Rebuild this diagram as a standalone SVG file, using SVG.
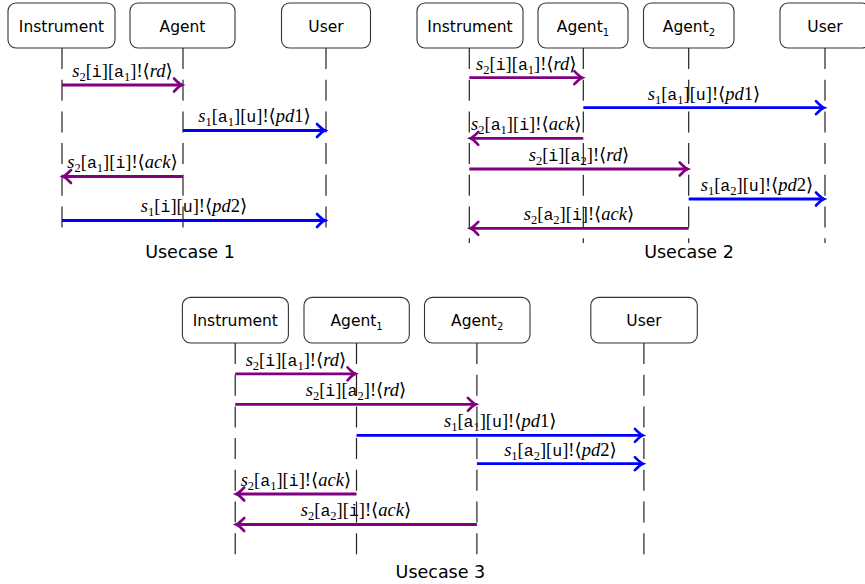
<svg xmlns="http://www.w3.org/2000/svg" width="865" height="584" viewBox="0 0 865 584">
<style>
.box{fill:#fff;stroke:#333;stroke-width:1.1}
.bt{font-family:"DejaVu Sans","Liberation Sans",sans-serif;font-size:15.5px;fill:#000;text-anchor:middle}
.bs{font-size:10px}
.life{stroke:#222;stroke-width:1.2;stroke-dasharray:21 10.7;fill:none}
.lbl{font-family:"Liberation Serif","DejaVu Serif",serif;font-size:18.5px;fill:#000;text-anchor:middle}
.it{font-style:italic}
.tt{font-family:"Liberation Mono","DejaVu Sans Mono",monospace;font-size:16.5px}
.sb{font-size:12.5px}
.cap{font-family:"DejaVu Sans","Liberation Sans",sans-serif;font-size:17.5px;fill:#000;text-anchor:middle}
.p{stroke:#800080;stroke-width:2.8;fill:none}
.b{stroke:#0000ff;stroke-width:2.8;fill:none}
</style>
<defs>
<marker id="hp" markerUnits="userSpaceOnUse" markerWidth="20" markerHeight="20" refX="0" refY="0" viewBox="-10 -10 20 20" orient="auto" overflow="visible">
<path d="M-8,-6.5 Q-3,-1.2 0,0 Q-3,1.2 -8,6.5" stroke="#800080" stroke-width="2.6" fill="none" stroke-linecap="round"/>
</marker>
<marker id="hb" markerUnits="userSpaceOnUse" markerWidth="20" markerHeight="20" refX="0" refY="0" viewBox="-10 -10 20 20" orient="auto" overflow="visible">
<path d="M-8,-6.5 Q-3,-1.2 0,0 Q-3,1.2 -8,6.5" stroke="#0000ff" stroke-width="2.6" fill="none" stroke-linecap="round"/>
</marker>
</defs>

<!-- Usecase 1 -->
<g id="uc1">
<g id="uc1-instrument"><rect class="box" x="8" y="3" width="107" height="45" rx="8"/><text class="bt" x="61.5" y="31.5">Instrument</text></g>
<g id="uc1-agent"><rect class="box" x="130" y="3" width="105" height="45" rx="8"/><text class="bt" x="182.5" y="31.5">Agent</text></g>
<g id="uc1-user"><rect class="box" x="281.5" y="3" width="89" height="45" rx="8"/><text class="bt" x="326" y="31.5">User</text></g>
<g id="uc1-labels">
<text class="lbl" x="122.5" y="77"><tspan class="it">s</tspan><tspan class="sb" dy="4">2</tspan><tspan dy="-4">[</tspan><tspan class="tt">i</tspan>][<tspan class="tt">a</tspan><tspan class="sb" dy="4">1</tspan><tspan dy="-4">]!⟨</tspan><tspan class="it">rd</tspan>⟩</text>
<text class="lbl" x="254.5" y="122"><tspan class="it">s</tspan><tspan class="sb" dy="4">1</tspan><tspan dy="-4">[</tspan><tspan class="tt">a</tspan><tspan class="sb" dy="4">1</tspan><tspan dy="-4">][</tspan><tspan class="tt">u</tspan>]!⟨<tspan class="it">pd</tspan>1⟩</text>
<text class="lbl" x="122.5" y="168"><tspan class="it">s</tspan><tspan class="sb" dy="4">2</tspan><tspan dy="-4">[</tspan><tspan class="tt">a</tspan><tspan class="sb" dy="4">1</tspan><tspan dy="-4">][</tspan><tspan class="tt">i</tspan>]!⟨<tspan class="it">ack</tspan>⟩</text>
<text class="lbl" x="194" y="212"><tspan class="it">s</tspan><tspan class="sb" dy="4">1</tspan><tspan dy="-4">[</tspan><tspan class="tt">i</tspan>][<tspan class="tt">u</tspan>]!⟨<tspan class="it">pd</tspan>2⟩</text>
</g>
<g id="uc1-lifelines">
<line class="life" x1="62" y1="48" x2="62" y2="229"/>
<line class="life" x1="183" y1="48" x2="183" y2="229"/>
<line class="life" x1="326" y1="48" x2="326" y2="229"/>
</g>
<g id="uc1-connectors">
<line class="p" x1="62" y1="85" x2="182" y2="85" marker-end="url(#hp)"/>
<line class="b" x1="183" y1="130.5" x2="325" y2="130.5" marker-end="url(#hb)"/>
<line class="p" x1="183" y1="176.5" x2="63" y2="176.5" marker-end="url(#hp)"/>
<line class="b" x1="62" y1="220.5" x2="325" y2="220.5" marker-end="url(#hb)"/>
</g>
<text class="cap" x="190" y="258">Usecase 1</text>
</g>

<!-- Usecase 2 -->
<g id="uc2">
<g id="uc2-instrument"><rect class="box" x="417" y="3" width="106" height="45" rx="8"/><text class="bt" x="470" y="31.5">Instrument</text></g>
<g id="uc2-agent1"><rect class="box" x="538" y="3" width="90" height="45" rx="8"/><text class="bt" x="583" y="31.5">Agent<tspan class="bs" dy="4">1</tspan></text></g>
<g id="uc2-agent2"><rect class="box" x="643.5" y="3" width="90.5" height="45" rx="8"/><text class="bt" x="689" y="31.5">Agent<tspan class="bs" dy="4">2</tspan></text></g>
<g id="uc2-user"><rect class="box" x="780" y="3" width="90" height="45" rx="8"/><text class="bt" x="825" y="31.5">User</text></g>
<g id="uc2-labels">
<text class="lbl" x="526.3" y="69.5"><tspan class="it">s</tspan><tspan class="sb" dy="4">2</tspan><tspan dy="-4">[</tspan><tspan class="tt">i</tspan>][<tspan class="tt">a</tspan><tspan class="sb" dy="4">1</tspan><tspan dy="-4">]!⟨</tspan><tspan class="it">rd</tspan>⟩</text>
<text class="lbl" x="704" y="99.5"><tspan class="it">s</tspan><tspan class="sb" dy="4">1</tspan><tspan dy="-4">[</tspan><tspan class="tt">a</tspan><tspan class="sb" dy="4">1</tspan><tspan dy="-4">][</tspan><tspan class="tt">u</tspan>]!⟨<tspan class="it">pd</tspan>1⟩</text>
<text class="lbl" x="526.3" y="130"><tspan class="it">s</tspan><tspan class="sb" dy="4">2</tspan><tspan dy="-4">[</tspan><tspan class="tt">a</tspan><tspan class="sb" dy="4">1</tspan><tspan dy="-4">][</tspan><tspan class="tt">i</tspan>]!⟨<tspan class="it">ack</tspan>⟩</text>
<text class="lbl" x="579" y="160.5"><tspan class="it">s</tspan><tspan class="sb" dy="4">2</tspan><tspan dy="-4">[</tspan><tspan class="tt">i</tspan>][<tspan class="tt">a</tspan><tspan class="sb" dy="4">2</tspan><tspan dy="-4">]!⟨</tspan><tspan class="it">rd</tspan>⟩</text>
<text class="lbl" x="757" y="190.5"><tspan class="it">s</tspan><tspan class="sb" dy="4">1</tspan><tspan dy="-4">[</tspan><tspan class="tt">a</tspan><tspan class="sb" dy="4">2</tspan><tspan dy="-4">][</tspan><tspan class="tt">u</tspan>]!⟨<tspan class="it">pd</tspan>2⟩</text>
<text class="lbl" x="579" y="220"><tspan class="it">s</tspan><tspan class="sb" dy="4">2</tspan><tspan dy="-4">[</tspan><tspan class="tt">a</tspan><tspan class="sb" dy="4">2</tspan><tspan dy="-4">][</tspan><tspan class="tt">i</tspan>]!⟨<tspan class="it">ack</tspan>⟩</text>
</g>
<g id="uc2-lifelines">
<line class="life" x1="469.3" y1="48" x2="469.3" y2="243"/>
<line class="life" x1="583.3" y1="48" x2="583.3" y2="243"/>
<line class="life" x1="688.7" y1="48" x2="688.7" y2="243"/>
<line class="life" x1="825" y1="48" x2="825" y2="243"/>
</g>
<g id="uc2-connectors">
<line class="p" x1="469.3" y1="77.7" x2="582.3" y2="77.7" marker-end="url(#hp)"/>
<line class="b" x1="583.3" y1="107.7" x2="824" y2="107.7" marker-end="url(#hb)"/>
<line class="p" x1="583.3" y1="138.3" x2="470.3" y2="138.3" marker-end="url(#hp)"/>
<line class="p" x1="469.3" y1="169" x2="687.7" y2="169" marker-end="url(#hp)"/>
<line class="b" x1="688.7" y1="199" x2="824" y2="199" marker-end="url(#hb)"/>
<line class="p" x1="688.7" y1="228.3" x2="470.3" y2="228.3" marker-end="url(#hp)"/>
</g>
<text class="cap" x="689" y="258">Usecase 2</text>
</g>

<!-- Usecase 3 -->
<g id="uc3">
<g id="uc3-instrument"><rect class="box" x="182.4" y="297.4" width="106" height="45.6" rx="8"/><text class="bt" x="235.3" y="326">Instrument</text></g>
<g id="uc3-agent1"><rect class="box" x="304" y="297.4" width="105.3" height="45.6" rx="8"/><text class="bt" x="356.6" y="326">Agent<tspan class="bs" dy="4">1</tspan></text></g>
<g id="uc3-agent2"><rect class="box" x="424.5" y="297.4" width="105.5" height="45.6" rx="8"/><text class="bt" x="477.2" y="326">Agent<tspan class="bs" dy="4">2</tspan></text></g>
<g id="uc3-user"><rect class="box" x="590.8" y="297.4" width="106.5" height="45.6" rx="8"/><text class="bt" x="644" y="326">User</text></g>
<g id="uc3-labels">
<text class="lbl" x="295.9" y="365.5"><tspan class="it">s</tspan><tspan class="sb" dy="4">2</tspan><tspan dy="-4">[</tspan><tspan class="tt">i</tspan>][<tspan class="tt">a</tspan><tspan class="sb" dy="4">1</tspan><tspan dy="-4">]!⟨</tspan><tspan class="it">rd</tspan>⟩</text>
<text class="lbl" x="356" y="396"><tspan class="it">s</tspan><tspan class="sb" dy="4">2</tspan><tspan dy="-4">[</tspan><tspan class="tt">i</tspan>][<tspan class="tt">a</tspan><tspan class="sb" dy="4">2</tspan><tspan dy="-4">]!⟨</tspan><tspan class="it">rd</tspan>⟩</text>
<text class="lbl" x="500.2" y="427"><tspan class="it">s</tspan><tspan class="sb" dy="4">1</tspan><tspan dy="-4">[</tspan><tspan class="tt">a</tspan><tspan class="sb" dy="4">1</tspan><tspan dy="-4">][</tspan><tspan class="tt">u</tspan>]!⟨<tspan class="it">pd</tspan>1⟩</text>
<text class="lbl" x="560.4" y="455.5"><tspan class="it">s</tspan><tspan class="sb" dy="4">1</tspan><tspan dy="-4">[</tspan><tspan class="tt">a</tspan><tspan class="sb" dy="4">2</tspan><tspan dy="-4">][</tspan><tspan class="tt">u</tspan>]!⟨<tspan class="it">pd</tspan>2⟩</text>
<text class="lbl" x="295.9" y="486"><tspan class="it">s</tspan><tspan class="sb" dy="4">2</tspan><tspan dy="-4">[</tspan><tspan class="tt">a</tspan><tspan class="sb" dy="4">1</tspan><tspan dy="-4">][</tspan><tspan class="tt">i</tspan>]!⟨<tspan class="it">ack</tspan>⟩</text>
<text class="lbl" x="356" y="516"><tspan class="it">s</tspan><tspan class="sb" dy="4">2</tspan><tspan dy="-4">[</tspan><tspan class="tt">a</tspan><tspan class="sb" dy="4">2</tspan><tspan dy="-4">][</tspan><tspan class="tt">i</tspan>]!⟨<tspan class="it">ack</tspan>⟩</text>
</g>
<g id="uc3-lifelines">
<line class="life" x1="235.2" y1="343" x2="235.2" y2="555"/>
<line class="life" x1="356.5" y1="343" x2="356.5" y2="555"/>
<line class="life" x1="476.9" y1="343" x2="476.9" y2="555"/>
<line class="life" x1="643.9" y1="343" x2="643.9" y2="555"/>
</g>
<g id="uc3-connectors">
<line class="p" x1="235.2" y1="373.8" x2="355.5" y2="373.8" marker-end="url(#hp)"/>
<line class="p" x1="235.2" y1="404.3" x2="475.9" y2="404.3" marker-end="url(#hp)"/>
<line class="b" x1="356.5" y1="435.4" x2="642.9" y2="435.4" marker-end="url(#hb)"/>
<line class="b" x1="476.9" y1="463.7" x2="642.9" y2="463.7" marker-end="url(#hb)"/>
<line class="p" x1="356.5" y1="494" x2="236.2" y2="494" marker-end="url(#hp)"/>
<line class="p" x1="476.9" y1="524.5" x2="236.2" y2="524.5" marker-end="url(#hp)"/>
</g>
<text class="cap" x="440.4" y="578">Usecase 3</text>
</g>
</svg>
